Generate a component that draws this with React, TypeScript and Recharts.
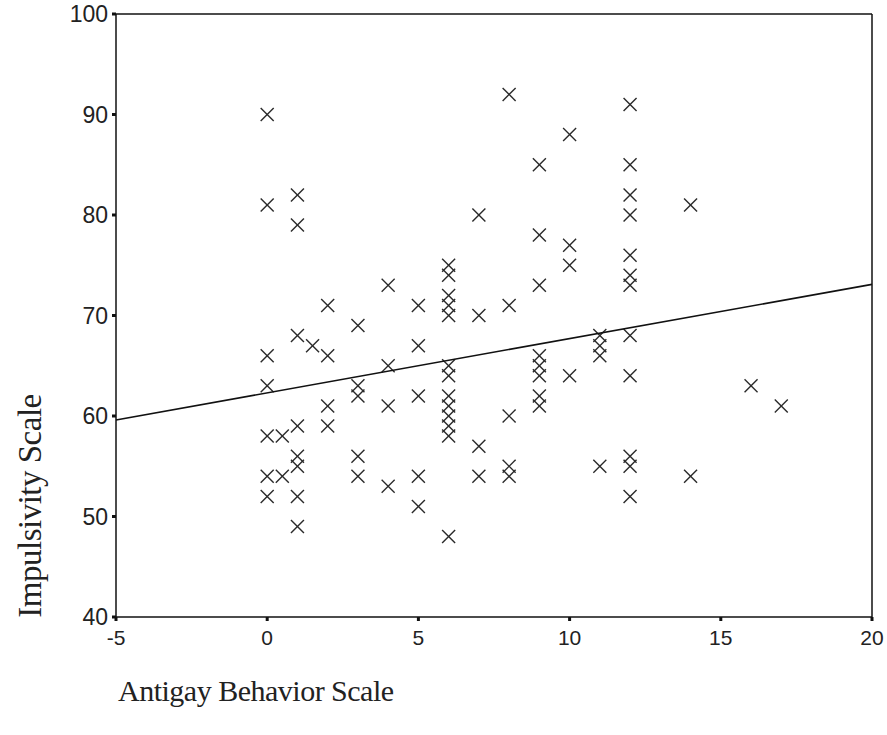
import React from 'react';
import { ScatterChart, Scatter, XAxis, YAxis, ReferenceLine, Label } from 'recharts';

// Antigay Behavior Scale (x) vs Impulsivity Scale (y)
const behavior = [
  0, 0, 0, 0, 0, 0, 0,
  0.5, 0.5,
  1, 1, 1, 1, 1, 1, 1, 1,
  1.5,
  2, 2, 2, 2,
  3, 3, 3, 3, 3,
  4, 4, 4, 4,
  5, 5, 5, 5, 5,
  6, 6, 6, 6, 6, 6, 6, 6, 6, 6, 6, 6, 6,
  7, 7, 7, 7,
  8, 8, 8, 8, 8,
  9, 9, 9, 9, 9, 9, 9, 9,
  10, 10, 10, 10,
  11, 11, 11, 11,
  12, 12, 12, 12, 12, 12, 12, 12, 12, 12, 12, 12,
  14, 14,
  16,
  17,
];
const impulsivity = [
  90, 81, 66, 63, 58, 54, 52,
  58, 54,
  82, 79, 68, 59, 56, 55, 52, 49,
  67,
  71, 66, 61, 59,
  69, 63, 62, 56, 54,
  73, 65, 61, 53,
  71, 67, 62, 54, 51,
  75, 74, 72, 71, 70, 65, 64, 62, 61, 60, 59, 58, 48,
  80, 70, 57, 54,
  92, 71, 60, 55, 54,
  85, 78, 73, 66, 65, 64, 62, 61,
  88, 77, 75, 64,
  68, 67, 66, 55,
  91, 85, 82, 80, 76, 74, 73, 68, 64, 56, 55, 52,
  81, 54,
  63,
  61,
];

// fitted line endpoints at the edges of the x range
const fitX = [-5, 20];
const fitY = [59.6, 73.1];

const xTicks = [-5, 0, 5, 10, 15, 20];
const yTicks = [40, 50, 60, 70, 80, 90, 100];

const points = behavior.map((x, i) => ({ x, y: impulsivity[i] }));
const fitLine = fitX.map((x, i) => ({ x, y: fitY[i] }));

const sans = '"Liberation Sans", Arial, sans-serif';
const serif = '"Liberation Serif", "Times New Roman", serif';

const Cross = (props: any) => {
  const { cx, cy } = props;
  const r = 6.5;
  return (
    <g stroke="#2a2a2a" strokeWidth={1.4}>
      <line x1={cx - r} y1={cy - r} x2={cx + r} y2={cy + r} />
      <line x1={cx - r} y1={cy + r} x2={cx + r} y2={cy - r} />
    </g>
  );
};

export default function App() {
  return (
    <div style={{ position: 'absolute', left: 0, top: 0, width: 887, height: 735, background: '#fff' }}>
      <ScatterChart width={887} height={735} margin={{ top: 14, right: 15, left: 0, bottom: 0 }}>
        <XAxis
          type="number"
          dataKey="x"
          domain={[-5, 20]}
          ticks={xTicks}
          height={118}
          stroke="#111"
          strokeWidth={1.5}
          tickSize={4}
          tickMargin={9}
          tickLine={{ stroke: '#111', strokeWidth: 3 }}
          tick={{ fill: '#222', fontSize: 21, fontFamily: sans }}
        >
          <Label
            content={() => (
              <text x={118} y={701} fontFamily={serif} fontSize={30} fill="#222" letterSpacing={-0.5}>
                Antigay Behavior Scale
              </text>
            )}
          />
        </XAxis>
        <YAxis
          type="number"
          dataKey="y"
          domain={[40, 100]}
          ticks={yTicks}
          width={116}
          stroke="#111"
          strokeWidth={1.5}
          tickSize={4}
          tickMargin={4}
          tickLine={{ stroke: '#111', strokeWidth: 3 }}
          tick={{ fill: '#222', fontSize: 23, fontFamily: sans }}
        >
          <Label
            content={() => (
              <text
                x={30}
                y={506}
                transform="rotate(-90 30 506)"
                textAnchor="middle"
                dominantBaseline="central"
                fontFamily={serif}
                fontSize={33}
                fill="#222"
                letterSpacing={-0.5}
              >
                Impulsivity Scale
              </text>
            )}
          />
        </YAxis>
        <ReferenceLine y={100} stroke="#111" strokeWidth={1.5} />
        <ReferenceLine x={20} stroke="#111" strokeWidth={1.5} />
        <Scatter data={points} shape={<Cross />} isAnimationActive={false} />
        <Scatter
          data={fitLine}
          line={{ stroke: '#111', strokeWidth: 1.6 }}
          shape={() => <g />}
          isAnimationActive={false}
        />
      </ScatterChart>
    </div>
  );
}
